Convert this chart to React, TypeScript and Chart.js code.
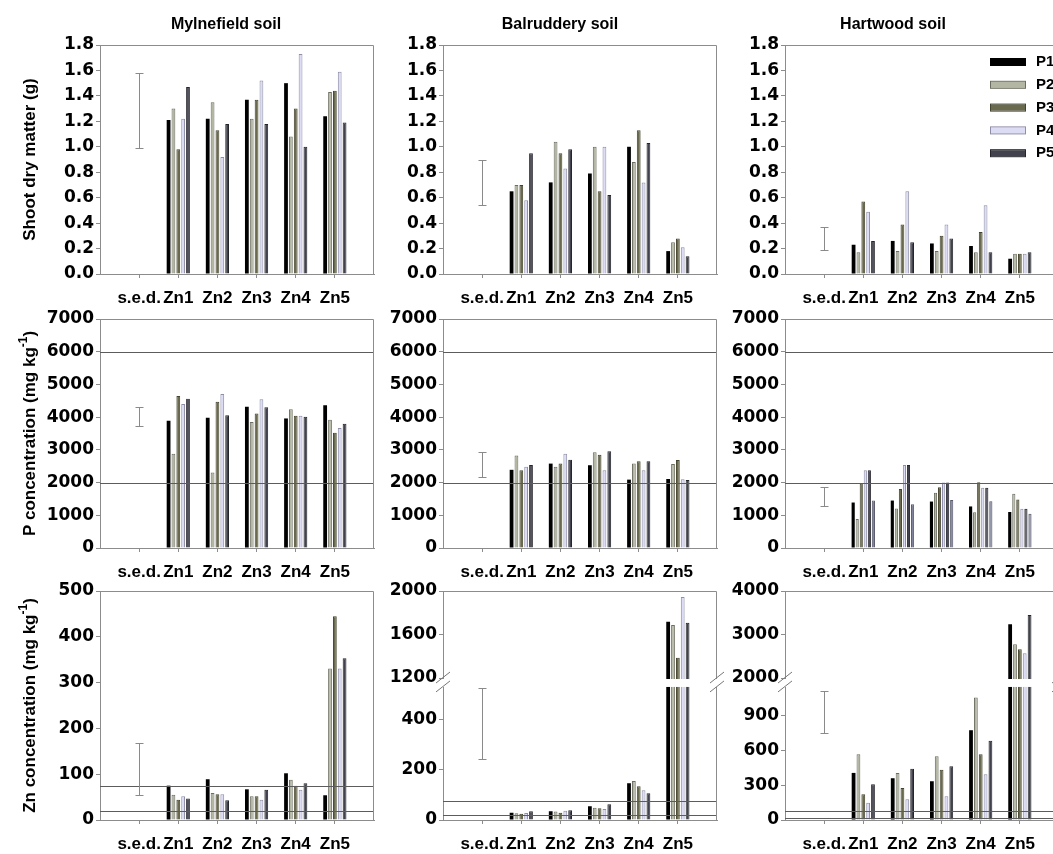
import React, { useEffect, useRef } from 'react';
import { Chart, registerables, LinearScale } from 'chart.js';

// ---------- data ----------
const CATEGORIES = ['', 's.e.d.', 'Zn1', 'Zn2', 'Zn3', 'Zn4', 'Zn5', ''];
const SERIES = ['P1', 'P2', 'P3', 'P4', 'P5', ''];
const SOILS = ['Mylnefield soil', 'Balruddery soil', 'Hartwood soil'];

// Shoot dry matter (g): one row per P level, values for Zn1..Zn5
const shootMylnefield = [
  [1.21, 1.22, 1.37, 1.50, 1.24],
  [1.30, 1.35, 1.22, 1.08, 1.43],
  [0.98, 1.13, 1.37, 1.30, 1.44],
  [1.22, 0.92, 1.52, 1.73, 1.59],
  [1.47, 1.18, 1.18, 1.00, 1.19],
];
const shootBalruddery = [
  [0.65, 0.72, 0.79, 1.00, 0.18],
  [0.70, 1.04, 1.00, 0.88, 0.25],
  [0.70, 0.95, 0.65, 1.13, 0.28],
  [0.58, 0.83, 1.00, 0.72, 0.21],
  [0.95, 0.98, 0.62, 1.03, 0.14],
];
const shootHartwood = [
  [0.23, 0.26, 0.24, 0.22, 0.12],
  [0.17, 0.18, 0.18, 0.17, 0.16],
  [0.57, 0.39, 0.30, 0.33, 0.16],
  [0.49, 0.65, 0.39, 0.54, 0.16],
  [0.26, 0.25, 0.28, 0.17, 0.17],
];

// P concentration (mg kg-1)
const pMylnefield = [
  [3890, 3980, 4320, 3960, 4360],
  [2880, 2310, 3850, 4240, 3920],
  [4650, 4470, 4110, 4040, 3520],
  [4400, 4710, 4550, 4040, 3670],
  [4560, 4060, 4300, 4010, 3800],
];
const pBalruddery = [
  [2390, 2580, 2530, 2090, 2110],
  [2830, 2480, 2930, 2580, 2570],
  [2380, 2580, 2850, 2650, 2690],
  [2480, 2880, 2380, 2380, 2100],
  [2540, 2700, 2960, 2650, 2080],
];
const pHartwood = [
  [1390, 1450, 1420, 1270, 1100],
  [890, 1210, 1690, 1090, 1660],
  [1970, 1800, 1860, 2010, 1480],
  [2380, 2540, 2000, 1840, 1200],
  [2380, 2540, 2000, 1840, 1200],
  [1450, 1340, 1470, 1430, 1050],
];

// Zn concentration (mg kg-1)
const znMylnefield = [
  [75, 89, 67, 102, 54],
  [55, 59, 52, 88, 331],
  [44, 56, 52, 75, 445],
  [52, 56, 44, 66, 331],
  [47, 43, 66, 80, 353],
];
const znBalruddery = [
  [29, 35, 55, 147, 1718],
  [27, 34, 49, 156, 1687],
  [25, 29, 47, 135, 1387],
  [28, 37, 44, 119, 1945],
  [35, 39, 63, 107, 1709],
];
const znHartwood = [
  [407, 361, 335, 776, 3234],
  [568, 407, 551, 1058, 2775],
  [222, 277, 435, 568, 2660],
  [150, 179, 205, 395, 2568],
  [309, 444, 464, 686, 3448],
];

// s.e.d. bars [low, high] per soil
const sedShoot = [[0.99, 1.58], [0.54, 0.90], [0.19, 0.37]];
const sedP = [[3730, 4320], [2170, 2930], [1280, 1870]];
const sedZn = [[54, 169], [243, 529], [755, 1118]];

// reference lines
const pLimits = [2000, 6000];
const znLimits = [20, 75];

// tick values
const shootTicks = [0, 0.2, 0.4, 0.6, 0.8, 1.0, 1.2, 1.4, 1.6, 1.8];
const pTicks = [0, 1000, 2000, 3000, 4000, 5000, 6000, 7000];
const znTicksMylnefield = [0, 100, 200, 300, 400, 500];
const znTicksBalruddery = [0, 200, 400, 1200, 1600, 2000];
const znTicksHartwood = [0, 300, 600, 900, 2000, 3000, 4000];

// ---------- style / layout ----------
const FILL = ['#000000', '#b4b6a4', '#6a6a4e', '#dcdcf4', '#42424e', '#80839a'];
const EDGE = ['#000000', '#6c6e60', '#44442e', '#8e8ea8', '#24242c', '#585a6c'];
const FONT = "'Liberation Sans', Arial, sans-serif";
const WIDE_FONT = "'DejaVu Sans', 'Liberation Sans', sans-serif";
const AXIS = '#8c8c8c';
const COL_LEFT = [100, 443, 785];
const ROW_TOP = [45, 319, 591];
const PLOT_W = 274;
const PLOT_H = 229;
const PAD_L = 100;
const PAD_T = 45;
const PAD_R = 22;
const PAD_B = 42;
const CANVAS_W = PAD_L + PLOT_W + PAD_R;
const CANVAS_H = PAD_T + PLOT_H + PAD_B;
const TITLE_OFFSET = [126, 117, 108];
const LOW_FRAC = 0.581;
const HIGH_FRAC = 0.62;

// ---------- broken linear scale ----------
class BrokenLinearScale extends LinearScale {
  static id = 'brokenLinear';
  getPixelForValue(value: any, index?: number) {
    const b = (this.options as any).brk;
    if (!b || value === null || value === undefined || isNaN(value)) return super.getPixelForValue(value, index);
    let dec: number;
    if (value <= b.lowMax) dec = (value / b.lowMax) * LOW_FRAC;
    else if (value >= b.highMin) dec = HIGH_FRAC + ((value - b.highMin) / (this.max - b.highMin)) * (1 - HIGH_FRAC);
    else dec = LOW_FRAC + ((value - b.lowMax) / (b.highMin - b.lowMax)) * (HIGH_FRAC - LOW_FRAC);
    return this.getPixelForDecimal(dec);
  }
  getValueForPixel(pixel: number) {
    const b = (this.options as any).brk;
    if (!b) return super.getValueForPixel(pixel);
    const dec = this.getDecimalForPixel(pixel);
    if (dec <= LOW_FRAC) return (dec / LOW_FRAC) * b.lowMax;
    if (dec >= HIGH_FRAC) return b.highMin + ((dec - HIGH_FRAC) / (1 - HIGH_FRAC)) * (this.max - b.highMin);
    return b.lowMax + ((dec - LOW_FRAC) / (HIGH_FRAC - LOW_FRAC)) * (b.highMin - b.lowMax);
  }
}

Chart.register(...registerables, BrokenLinearScale as any);

const Y_TITLES = [
  { main: 'Shoot dry matter (g)', sup: '', after: '' },
  { main: 'P concentration (mg kg', sup: '-1', after: ')' },
  { main: 'Zn concentration (mg kg', sup: '-1', after: ')' },
];

const decorPlugin = {
  id: 'decor',
  afterDatasetsDraw(chart: any, _args: any, opts: any) {
    const { ctx, chartArea: a, scales } = chart;
    const y = scales.y;
    const x = scales.x;
    ctx.save();
    // reference lines
    ctx.lineWidth = 1;
    ctx.strokeStyle = '#5c5c5c';
    (opts.lines || []).forEach((v: number) => {
      const py = Math.round(y.getPixelForValue(v)) + 0.5;
      ctx.beginPath();
      ctx.moveTo(a.left, py);
      ctx.lineTo(a.right, py);
      ctx.stroke();
    });
    // box top + right
    ctx.strokeStyle = AXIS;
    ctx.beginPath();
    ctx.moveTo(a.left, a.top + 0.5);
    ctx.lineTo(a.right - 0.5, a.top + 0.5);
    ctx.lineTo(a.right - 0.5, a.bottom);
    ctx.stroke();
    // axis break
    if (opts.brk) {
      const yHi = y.getPixelForValue(opts.brk.highMin);
      const yLo = y.getPixelForValue(opts.brk.lowMax);
      ctx.fillStyle = '#ffffff';
      ctx.fillRect(a.left - 5, yHi + 1, a.right - a.left + 10, yLo - yHi - 1);
      ctx.strokeStyle = '#777777';
      [a.left, a.right].forEach((bx: number) => {
        [yHi, yLo].forEach((by: number) => {
          ctx.beginPath();
          ctx.moveTo(bx - 7, by + 5);
          ctx.lineTo(bx + 7, by - 6);
          ctx.stroke();
        });
      });
    }
    // s.e.d. bar
    if (opts.sed) {
      const px = Math.round(x.getPixelForValue(1)) + 0.5;
      const y1 = Math.round(y.getPixelForValue(opts.sed[0])) + 0.5;
      const y2 = Math.round(y.getPixelForValue(opts.sed[1])) + 0.5;
      ctx.strokeStyle = '#8a8a8a';
      ctx.beginPath();
      ctx.moveTo(px, y1);
      ctx.lineTo(px, y2);
      ctx.moveTo(px - 4, y1);
      ctx.lineTo(px + 4, y1);
      ctx.moveTo(px - 4, y2);
      ctx.lineTo(px + 4, y2);
      ctx.stroke();
    }
    ctx.restore();
  },
  afterDraw(chart: any, _args: any, opts: any) {
    const { ctx, chartArea: a } = chart;
    ctx.save();
    ctx.fillStyle = '#000';
    if (opts.title) {
      ctx.font = `bold 16px ${FONT}`;
      ctx.textAlign = 'center';
      ctx.textBaseline = 'middle';
      ctx.fillText(opts.title, a.left + opts.titleOffset, a.top - 20);
    }
    if (opts.yTitle) {
      const t = opts.yTitle;
      const big = `bold 17px ${FONT}`;
      const small = `bold 12px ${FONT}`;
      ctx.font = big;
      const w1 = ctx.measureText(t.main).width;
      const w3 = t.after ? ctx.measureText(t.after).width : 0;
      ctx.font = small;
      const w2 = t.sup ? ctx.measureText(t.sup).width : 0;
      const total = w1 + w2 + w3;
      ctx.translate(30, (a.top + a.bottom) / 2);
      ctx.rotate(-Math.PI / 2);
      ctx.textAlign = 'left';
      ctx.textBaseline = 'middle';
      let cx = -total / 2;
      ctx.font = big;
      ctx.fillText(t.main, cx, 0);
      cx += w1;
      if (t.sup) {
        ctx.font = small;
        ctx.fillText(t.sup, cx, -6);
        cx += w2;
      }
      if (t.after) {
        ctx.font = big;
        ctx.fillText(t.after, cx, 0);
      }
      ctx.setTransform(1, 0, 0, 1, 0, 0);
    }
    if (opts.legend) {
      ctx.font = `bold 15px ${FONT}`;
      ctx.textAlign = 'left';
      ctx.textBaseline = 'middle';
      chart.data.datasets.forEach((ds: any, i: number) => {
        const cy = a.top + 17 + i * 22.8;
        const bx = a.left + 205;
        ctx.fillStyle = ds.backgroundColor;
        ctx.fillRect(bx, cy - 3, 36, 6);
        ctx.strokeStyle = ds.borderColor;
        ctx.lineWidth = 1;
        ctx.strokeRect(bx + 0.5, cy - 3.5, 35, 7);
        ctx.fillStyle = '#000';
        ctx.fillText(ds.label, bx + 46, cy);
      });
    }
    ctx.restore();
  },
};

type PanelSpec = {
  row: number;
  col: number;
  values: number[][];
  sed: number[];
  ticks: number[];
  max: number;
  decimals?: number;
  lines?: number[];
  brk?: { lowMax: number; highMin: number };
  legend?: boolean;
};

const PANELS: PanelSpec[] = [
  { row: 0, col: 0, values: shootMylnefield, sed: sedShoot[0], ticks: shootTicks, max: 1.8, decimals: 1 },
  { row: 0, col: 1, values: shootBalruddery, sed: sedShoot[1], ticks: shootTicks, max: 1.8, decimals: 1 },
  { row: 0, col: 2, values: shootHartwood, sed: sedShoot[2], ticks: shootTicks, max: 1.8, decimals: 1, legend: true },
  { row: 1, col: 0, values: pMylnefield, sed: sedP[0], ticks: pTicks, max: 7000, lines: pLimits },
  { row: 1, col: 1, values: pBalruddery, sed: sedP[1], ticks: pTicks, max: 7000, lines: pLimits },
  { row: 1, col: 2, values: pHartwood, sed: sedP[2], ticks: pTicks, max: 7000, lines: pLimits },
  { row: 2, col: 0, values: znMylnefield, sed: sedZn[0], ticks: znTicksMylnefield, max: 500, lines: znLimits },
  { row: 2, col: 1, values: znBalruddery, sed: sedZn[1], ticks: znTicksBalruddery, max: 2000, lines: znLimits, brk: { lowMax: 532, highMin: 1200 } },
  { row: 2, col: 2, values: znHartwood, sed: sedZn[2], ticks: znTicksHartwood, max: 4000, lines: znLimits, brk: { lowMax: 1150, highMin: 2000 } },
];

function buildConfig(p: PanelSpec): any {
  const datasets = p.values.map((vals, i) => ({
    label: SERIES[i],
    data: [null, null, ...vals, null],
    backgroundColor: FILL[i],
    borderColor: EDGE[i],
    borderWidth: i === 0 ? 0 : 1,
    categoryPercentage: 0.62,
    barPercentage: 0.78,
  }));
  const xFont = { family: FONT, size: 17, weight: 'bold' };
  const yFont = { family: WIDE_FONT, size: 17, weight: 'bold' };
  return {
    type: 'bar',
    data: { labels: CATEGORIES, datasets },
    options: {
      animation: false,
      responsive: false,
      devicePixelRatio: 1,
      layout: { padding: { left: 0, top: PAD_T, right: PAD_R, bottom: 0 } },
      plugins: {
        legend: { display: false },
        tooltip: { enabled: false },
        decor: {
          lines: p.lines,
          sed: p.sed,
          brk: p.brk,
          legend: p.legend,
          title: p.row === 0 ? SOILS[p.col] : null,
          titleOffset: TITLE_OFFSET[p.col],
          yTitle: p.col === 0 ? Y_TITLES[p.row] : null,
        },
      },
      scales: {
        x: {
          type: 'category',
          offset: false,
          grid: {
            offset: false,
            drawOnChartArea: false,
            drawTicks: true,
            tickLength: 4,
            color: (c: any) => (c.index === 0 || c.index === CATEGORIES.length - 1 ? 'rgba(0,0,0,0)' : AXIS),
          },
          border: { display: true, color: AXIS },
          ticks: { autoSkip: false, maxRotation: 0, minRotation: 0, padding: 10, color: '#000', font: xFont },
          afterFit: (s: any) => { s.height = PAD_B; },
        },
        y: {
          type: p.brk ? 'brokenLinear' : 'linear',
          min: 0,
          max: p.max,
          brk: p.brk,
          grid: { drawOnChartArea: false, drawTicks: true, tickLength: 4, color: AXIS },
          border: { display: true, color: AXIS },
          ticks: {
            padding: 2,
            color: '#000',
            font: yFont,
            callback: (v: any) => (p.decimals ? Number(v).toFixed(p.decimals) : String(v)),
          },
          afterBuildTicks: (s: any) => { s.ticks = p.ticks.map((v) => ({ value: v })); },
          afterFit: (s: any) => { s.width = PAD_L; },
        },
      },
    },
    plugins: [decorPlugin],
  };
}

function Panel({ spec }: { spec: PanelSpec }) {
  const ref = useRef<HTMLCanvasElement>(null);
  useEffect(() => {
    const chart = new Chart(ref.current as HTMLCanvasElement, buildConfig(spec));
    return () => chart.destroy();
  }, [spec]);
  const left = COL_LEFT[spec.col] - PAD_L;
  const top = ROW_TOP[spec.row] - PAD_T;
  return (
    <canvas
      ref={ref}
      width={CANVAS_W}
      height={CANVAS_H}
      style={{ position: 'absolute', left, top, width: CANVAS_W, height: CANVAS_H }}
    />
  );
}

export default function App() {
  return (
    <div
      style={{
        position: 'absolute',
        left: 0,
        top: 0,
        width: 1053,
        height: 854,
        overflow: 'hidden',
        background: '#ffffff',
      }}
    >
      {PANELS.map((p, i) => (
        <Panel key={i} spec={p} />
      ))}
    </div>
  );
}
